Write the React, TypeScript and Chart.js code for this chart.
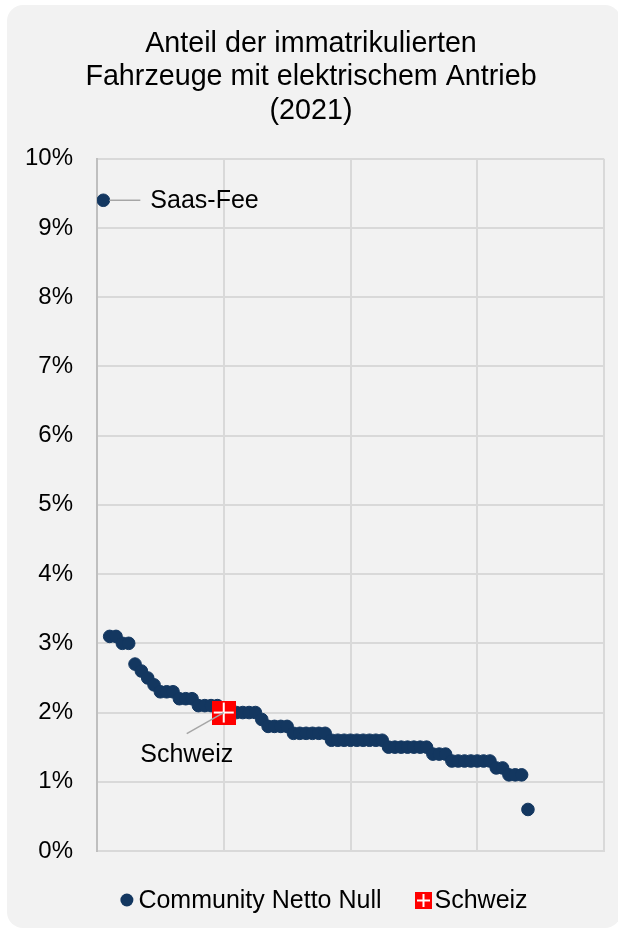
import React, { useEffect, useRef } from 'react';
import { Chart, registerables } from 'chart.js';

Chart.register(...registerables);

// ---------- data ----------
const titleLines = ['Anteil der immatrikulierten', 'Fahrzeuge mit elektrischem Antrieb', '(2021)'];
const communityLabel = 'Community Netto Null';
const swissLabel = 'Schweiz';
const saasFeeLabel = 'Saas-Fee';

// rank (x) of each community and its share of electric vehicles in % (y)
const communityRank = [
  1, 2, 3, 4, 5, 6, 7, 8, 9, 10, 11, 12, 13, 14, 15, 16, 17, 18, 19,
  21, 22, 23, 24, 25, 26, 27, 28, 29, 30, 31, 32, 33, 34, 35, 36,
  37, 38, 39, 40, 41, 42, 43, 44, 45, 46, 47, 48, 49, 50, 51, 52,
  53, 54, 55, 56, 57, 58, 59, 60, 61, 62, 63, 64, 65, 66, 67, 68,
];
const communityShare = [
  9.4, 3.1, 3.1, 3.0, 3.0, 2.7, 2.6, 2.5, 2.4, 2.3, 2.3, 2.3, 2.2, 2.2, 2.2, 2.1, 2.1, 2.1, 2.1,
  2.0, 2.0, 2.0, 2.0, 2.0, 1.9, 1.8, 1.8, 1.8, 1.8, 1.7, 1.7, 1.7, 1.7, 1.7, 1.7,
  1.6, 1.6, 1.6, 1.6, 1.6, 1.6, 1.6, 1.6, 1.6, 1.5, 1.5, 1.5, 1.5, 1.5, 1.5, 1.5,
  1.4, 1.4, 1.4, 1.3, 1.3, 1.3, 1.3, 1.3, 1.3, 1.3, 1.2, 1.2, 1.1, 1.1, 1.1, 0.6,
];
const swissRank = [20];
const swissShare = [2.0];

const yMin = 0;
const yMax = 10;
const yStep = 1;
const xMin = 0;
const xMax = 80;
const xStep = 20;

// ---------- styles ----------
const FONT = '"Liberation Sans", Arial, Helvetica, sans-serif';
const NAVY = '#133760';
const RED = '#ff0000';
const GRID = '#d9d9d9';
const CARD = '#f2f2f2';
const LEADER = '#a6a6a6';
const LABEL_SIZE = 25;
const TICK_SIZE = 24;
const TITLE_SIZE = 28.7;

function makeFlag(size: number, thick: number, inset: number): HTMLCanvasElement {
  const c = document.createElement('canvas');
  c.width = size;
  c.height = size;
  const g = c.getContext('2d') as CanvasRenderingContext2D;
  g.fillStyle = RED;
  g.fillRect(0, 0, size, size);
  g.fillStyle = '#ffffff';
  const m = size / 2;
  g.fillRect(inset, m - thick / 2, size - 2 * inset, thick);
  g.fillRect(m - thick / 2, inset, thick, size - 2 * inset);
  return c;
}

const backgroundPlugin = {
  id: 'cardBackground',
  beforeDraw(chart: any) {
    const { ctx } = chart;
    ctx.save();
    ctx.fillStyle = '#ffffff';
    ctx.fillRect(0, 0, chart.width, chart.height);
    ctx.fillStyle = CARD;
    ctx.beginPath();
    (ctx as any).roundRect(7, 5, 614, 923, 16);
    ctx.fill();
    ctx.restore();
  },
};

const annotationPlugin = {
  id: 'pointLabels',
  afterDatasetsDraw(chart: any) {
    const { ctx } = chart;
    const x = chart.scales.x;
    const y = chart.scales.y;
    ctx.save();
    ctx.font = `${LABEL_SIZE}px ${FONT}`;
    ctx.fillStyle = '#000000';
    ctx.strokeStyle = LEADER;
    ctx.lineWidth = 1.5;
    ctx.textBaseline = 'middle';

    // Saas-Fee
    const px = x.getPixelForValue(communityRank[0]);
    const py = y.getPixelForValue(communityShare[0]);
    ctx.beginPath();
    ctx.moveTo(px + 6, py);
    ctx.lineTo(px + 37, py);
    ctx.stroke();
    ctx.textAlign = 'left';
    ctx.fillText(saasFeeLabel, px + 47, py + 1);

    // Schweiz
    const sx = x.getPixelForValue(swissRank[0]);
    const sy = y.getPixelForValue(swissShare[0]);
    ctx.beginPath();
    ctx.moveTo(sx, sy);
    ctx.lineTo(sx - 37, sy + 21);
    ctx.stroke();
    ctx.textAlign = 'center';
    ctx.fillText(swissLabel, sx - 37, sy + 43);
    ctx.restore();
  },
};

function makeLegendPlugin(legendFlag: HTMLCanvasElement) {
  return {
    id: 'customLegend',
    afterDraw(chart: any) {
      const { ctx } = chart;
      ctx.save();
      ctx.font = `${LABEL_SIZE}px ${FONT}`;
      ctx.textBaseline = 'middle';
      ctx.textAlign = 'left';
      const cy = 900;
      const w1 = ctx.measureText(communityLabel).width;
      const w2 = ctx.measureText(swissLabel).width;
      const r = 6.5;
      const gap1 = 5;
      const between = 33;
      const gap2 = 3;
      const total = 2 * r + gap1 + w1 + between + legendFlag.width + gap2 + w2;
      let cx = 324 - total / 2;
      ctx.fillStyle = NAVY;
      ctx.beginPath();
      ctx.arc(cx + r, cy, r, 0, Math.PI * 2);
      ctx.fill();
      cx += 2 * r + gap1;
      ctx.fillStyle = '#000000';
      ctx.fillText(communityLabel, cx, cy + 1);
      cx += w1 + between;
      ctx.drawImage(legendFlag, Math.round(cx), Math.round(cy - legendFlag.height / 2));
      cx += legendFlag.width + gap2;
      ctx.fillStyle = '#000000';
      ctx.fillText(swissLabel, cx, cy + 1);
      ctx.restore();
    },
  };
}

export default function App() {
  const canvasRef = useRef<HTMLCanvasElement | null>(null);

  useEffect(() => {
    const canvas = canvasRef.current;
    if (!canvas) return;
    const bigFlag = makeFlag(24, 2, 2);
    const smallFlag = makeFlag(17, 2, 2);

    const chart = new Chart(canvas, {
      type: 'scatter',
      data: {
        datasets: [
          {
            label: communityLabel,
            data: communityRank.map((r, i) => ({ x: r, y: communityShare[i] })),
            backgroundColor: NAVY,
            borderColor: NAVY,
            borderWidth: 1,
            pointRadius: 6.3,
            pointStyle: 'circle',
            order: 2,
          },
          {
            label: swissLabel,
            data: swissRank.map((r, i) => ({ x: r, y: swissShare[i] })),
            backgroundColor: RED,
            borderColor: RED,
            pointRadius: 12,
            pointStyle: bigFlag as any,
            order: 1,
          },
        ],
      },
      options: {
        responsive: false,
        animation: false,
        events: [],
        layout: { padding: { top: 0, left: 4, right: 0, bottom: 79 } },
        font: { family: FONT },
        scales: {
          x: {
            type: 'linear',
            min: xMin,
            max: xMax,
            ticks: { display: false, stepSize: xStep },
            grid: { color: GRID, lineWidth: 2, drawTicks: false },
            border: { color: GRID, width: 2 },
          },
          y: {
            type: 'linear',
            position: 'left',
            min: yMin,
            max: yMax,
            ticks: {
              stepSize: yStep,
              color: '#000000',
              padding: 24,
              font: { family: FONT, size: TICK_SIZE },
              callback: (v: any) => `${v}%`,
            },
            grid: { color: GRID, lineWidth: 2, drawTicks: false },
            border: { color: '#bfbfbf', width: 2 },
            afterFit: (scale: any) => {
              scale.width = 93;
            },
          },
          yRight: {
            type: 'linear',
            position: 'right',
            min: yMin,
            max: yMax,
            ticks: { display: false },
            grid: { display: false, drawTicks: false },
            border: { display: false },
            afterFit: (scale: any) => {
              scale.width = 14;
            },
          },
        },
        plugins: {
          legend: { display: false },
          tooltip: { enabled: false },
          title: {
            display: true,
            text: titleLines,
            color: '#000000',
            font: { family: FONT, size: TITLE_SIZE, weight: 'normal', lineHeight: 1.17 },
            padding: { top: 27, bottom: 31 },
          },
        },
      } as any,
      plugins: [backgroundPlugin, annotationPlugin, makeLegendPlugin(smallFlag)],
    });

    return () => {
      chart.destroy();
    };
  }, []);

  return (
    <div style={{ position: 'absolute', left: 0, top: 0, width: 618, height: 930 }}>
      <canvas ref={canvasRef} width={618} height={930} style={{ display: 'block', width: 618, height: 930 }} />
    </div>
  );
}
